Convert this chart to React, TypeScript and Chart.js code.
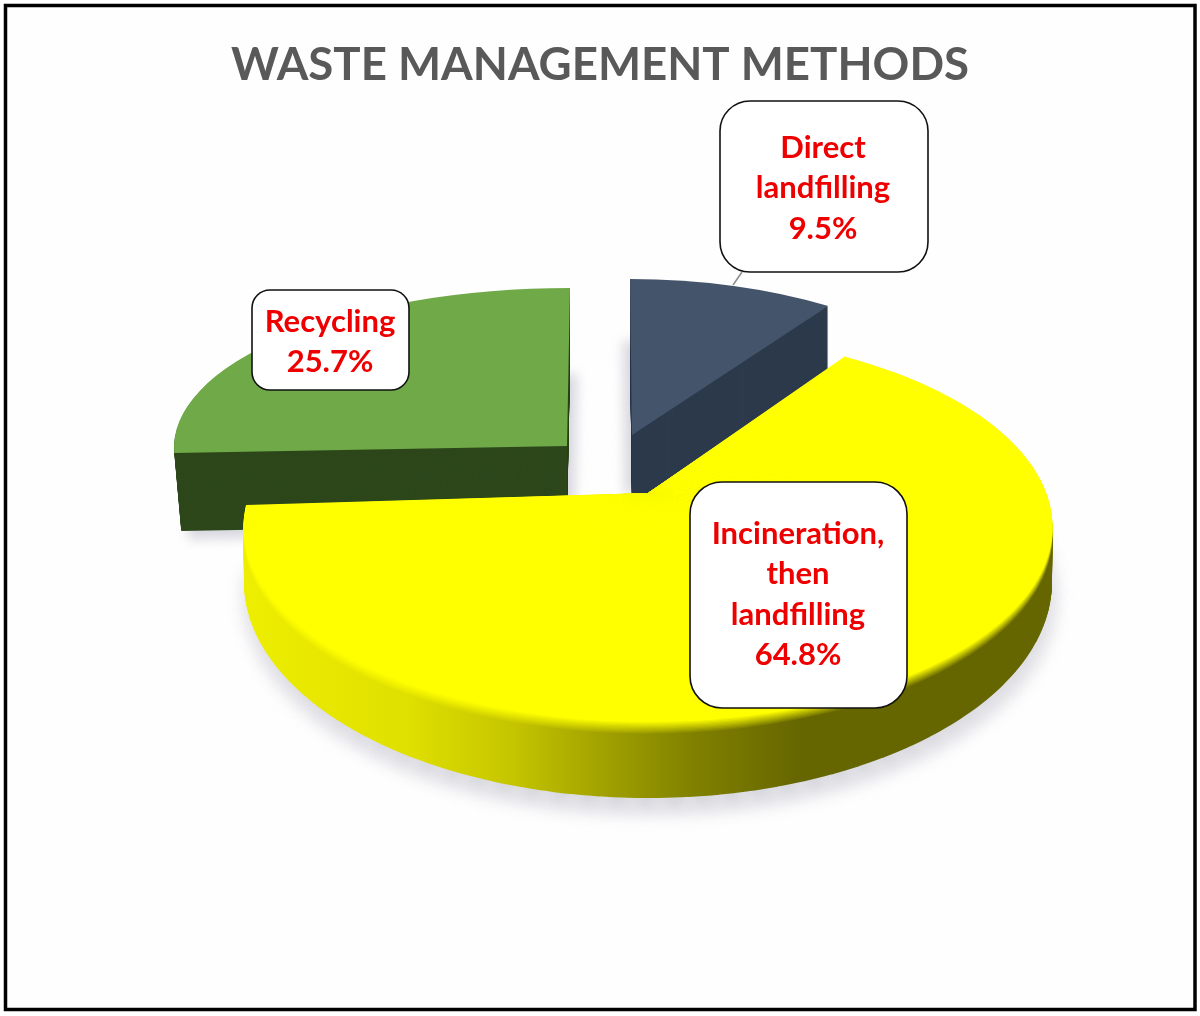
import React, { useEffect, useRef } from "react";
import { Chart, registerables } from "chart.js";

Chart.register(...registerables);

const TITLE = "WASTE MANAGEMENT METHODS";
const categories = ["Direct landfilling", "Incineration, then landfilling", "Recycling"];
const values = [9.5, 64.8, 25.7];
const labelLines = [["Direct", "landfilling"], ["Incineration,", "then", "landfilling"], ["Recycling"]];
const topColors = ["#44546a", "#ffff00", "#6fa948"];
const sideColors = ["#2c3a4c", "#ffff00", "#2d471b"];

type M = { A: number; B: number; C: number; D: number };
type Part = { from: number; to: number; top: M; bot: M };
type Slice = { cx: number; cy: number; depth: number; steps: number; parts: Part[] };
type Rim = { cx: number; cy: number; rx: number; ry: number };

// The big slice is seen in perspective: its hub is not the centre of the rim ellipses.
const HUB = { x: 648, y: 493 };
const RIM_TOP: Rim = { cx: 648, cy: 527, rx: 404.5, ry: 195 };
const RIM_BOTTOM: Rim = { cx: 648, cy: 582, rx: 404, ry: 216 };

function perspectiveParts(startDeg: number, endDeg: number): Part[] {
  const rad = Math.PI / 180;
  const psiOf = (t: number) => 29.1 + ((t - 34.2) * (276.5 - 29.1)) / (267.5 - 34.2);
  const pt = (r: Rim, t: number) => {
    const psi = psiOf(t) * rad;
    return [r.cx + r.rx * Math.sin(psi) - HUB.x, r.cy - r.ry * Math.cos(psi) - HUB.y];
  };
  const solve = (r: Rim, t0: number, t1: number): M => {
    const s0 = Math.sin(t0 * rad), k0 = Math.cos(t0 * rad), s1 = Math.sin(t1 * rad), k1 = Math.cos(t1 * rad);
    const det = -s0 * k1 + s1 * k0;
    const [x0, y0] = pt(r, t0);
    const [x1, y1] = pt(r, t1);
    return {
      A: (-x0 * k1 + x1 * k0) / det,
      C: (s0 * x1 - s1 * x0) / det,
      B: (-y0 * k1 + y1 * k0) / det,
      D: (s0 * y1 - s1 * y0) / det,
    };
  };
  const out: Part[] = [];
  const n = 58;
  for (let i = 0; i < n; i++) {
    const a = startDeg + ((endDeg - startDeg) * i) / n;
    const b = startDeg + ((endDeg - startDeg) * (i + 1)) / n;
    out.push({ from: a, to: b + 0.15, top: solve(RIM_TOP, a, b), bot: solve(RIM_BOTTOM, a, b) });
  }
  return out.reverse();
}

const slicesGeom: Slice[] = [
  {
    cx: 632, cy: 435, depth: 70, steps: 70,
    parts: [{ from: 0, to: 360, top: { A: 352, B: 0, C: 2, D: 156 }, bot: { A: 352, B: 0, C: 2, D: 156 } }],
  },
  { cx: HUB.x, cy: HUB.y, depth: 0, steps: 60, parts: perspectiveParts(34.2, 267.5) },
  {
    cx: 567, cy: 446, depth: 78, steps: 78,
    parts: [{ from: 0, to: 360, top: { A: 393, B: 0, C: -3, D: 158 }, bot: { A: 386, B: 0, C: -3, D: 158 } }],
  },
];
const boxes = [
  { x: 720, y: 101, w: 208, h: 171, r: 30, tx: 823, ty: 148 },
  { x: 690, y: 482, w: 217, h: 226, r: 32, tx: 798, ty: 534 },
  { x: 252, y: 290, w: 157, h: 100, r: 18, tx: 330, ty: 322 },
];
const LINE = 40.4;
const SIDE_STOPS: [number, number][] = [
  [0, 238], [0.2, 224], [0.33, 198], [0.45, 160], [0.56, 128], [0.69, 102], [1, 102],
];

const lerp = (a: number, b: number, t: number) => a + (b - a) * t;

function drawSlice(
  ctx: CanvasRenderingContext2D,
  arc: any,
  s: Slice,
  fill: any,
  t: number,
  shift = { x: 0, y: 0 },
) {
  const R = arc.outerRadius;
  const deg = Math.PI / 180;
  for (const p of s.parts) {
    const start = Math.max(arc.startAngle, p.from * deg - Math.PI / 2);
    const end = Math.min(arc.endAngle, p.to * deg - Math.PI / 2);
    if (end <= start) continue;
    const A = lerp(p.top.A, p.bot.A, t);
    const C = lerp(p.top.C, p.bot.C, t);
    const view = Object.create(arc);
    view.startAngle = start;
    view.endAngle = end;
    view.circumference = end - start;
    view.options = {
      backgroundColor: typeof fill === "function" ? fill(arc, s, A, C) : fill,
      borderColor: "transparent", borderWidth: 0, borderAlign: "center",
      offset: 0, spacing: 0, circular: true, borderRadius: 0, borderJoinStyle: "round", selfJoin: false,
    };
    ctx.save();
    ctx.translate(s.cx + shift.x, s.cy + s.depth * t + shift.y);
    ctx.transform(A / R, lerp(p.top.B, p.bot.B, t) / R, C / R, lerp(p.top.D, p.bot.D, t) / R, 0, 0);
    ctx.translate(-arc.x, -arc.y);
    arc.draw.call(view, ctx);
    ctx.restore();
  }
}

function yellowSide(ctx: CanvasRenderingContext2D, mix: number) {
  return (arc: any, s: Slice, A: number, C: number) => {
    const R = arc.outerRadius;
    const X0 = 243, X1 = 1050;
    const x0 = arc.x + ((X0 - s.cx) * R) / A;
    const lambda = ((X1 - X0) * R) / (A * A + C * C);
    const g = ctx.createLinearGradient(x0, arc.y, x0 + lambda * A, arc.y + lambda * C);
    for (const [at, v] of SIDE_STOPS) {
      const c = Math.round(v + (255 - v) * mix);
      g.addColorStop(at, `rgb(${c},${c},0)`);
    }
    return g;
  };
}

const frame = {
  id: "frame",
  beforeDraw(chart: any) {
    const { ctx, width, height } = chart;
    ctx.save();
    ctx.fillStyle = "#ffffff";
    ctx.fillRect(0, 0, width, height);
    ctx.fillStyle = "#fefefe";
    ctx.fillRect(6, 6, 1188, 1003);
    ctx.strokeStyle = "#000000";
    ctx.lineWidth = 3.5;
    ctx.strokeRect(5.5, 5.5, 1189.5, 1004);
    ctx.restore();
  },
};

const pie3d = {
  id: "pie3d",
  beforeDatasetsDraw(chart: any) {
    const ctx: CanvasRenderingContext2D = chart.ctx;
    const arcs = chart.getDatasetMeta(0).data;

    ctx.save();
    ctx.filter = "blur(6px)";
    drawSlice(ctx, arcs[2], slicesGeom[2], "#d6d6de", 1, { x: 7, y: 8 });
    drawSlice(ctx, arcs[0], slicesGeom[0], "#d6d6de", 1, { x: -7, y: -8 });
    ctx.filter = "blur(9px)";
    drawSlice(ctx, arcs[1], slicesGeom[1], "#d2d2da", 1, { x: 2, y: 14 });
    ctx.restore();

    for (const i of [2, 0, 1]) {
      const s = slicesGeom[i];
      for (let k = s.steps; k >= 1; k--) {
        const side = i === 1 ? yellowSide(ctx, Math.max(0, 1 - k / 10)) : sideColors[i];
        drawSlice(ctx, arcs[i], s, side, k / s.steps);
      }
      drawSlice(ctx, arcs[i], s, topColors[i], 0);
    }
    return false;
  },
};

const callouts = {
  id: "callouts",
  afterDraw(chart: any) {
    const ctx: CanvasRenderingContext2D = chart.ctx;
    ctx.save();
    ctx.strokeStyle = "#8a8a8a";
    ctx.lineWidth = 1.5;
    ctx.beginPath();
    ctx.moveTo(742, 272);
    ctx.lineTo(733, 285);
    ctx.stroke();
    values.forEach((v, i) => {
      const b = boxes[i];
      ctx.beginPath();
      ctx.roundRect(b.x, b.y, b.w, b.h, b.r);
      ctx.fillStyle = "#ffffff";
      ctx.fill();
      ctx.strokeStyle = "#111111";
      ctx.lineWidth = 1.6;
      ctx.stroke();
      ctx.fillStyle = "#ee0000";
      ctx.font = "bold 31px Lato";
      ctx.textAlign = "center";
      ctx.textBaseline = "middle";
      [...labelLines[i], `${v}%`].forEach((t, k) => ctx.fillText(t, b.tx, b.ty + k * LINE));
    });
    ctx.restore();
  },
};

export default function App() {
  const ref = useRef<HTMLCanvasElement | null>(null);
  useEffect(() => {
    document.body.style.margin = "0";
    const chart = new Chart(ref.current as HTMLCanvasElement, {
      type: "pie",
      data: {
        labels: categories,
        datasets: [{ data: values, backgroundColor: topColors, borderWidth: 0 }],
      },
      options: {
        responsive: false,
        animation: false,
        devicePixelRatio: 1,
        layout: { padding: { top: 38 } },
        plugins: {
          legend: { display: false },
          tooltip: { enabled: false },
          title: {
            display: true,
            text: TITLE,
            color: "#595959",
            font: { family: "Lato", size: 45.6, weight: "bold" },
            padding: { top: 0, bottom: 10 },
          },
        },
      } as any,
      plugins: [frame, pie3d, callouts] as any,
    });
    return () => chart.destroy();
  }, []);
  return <canvas ref={ref} width={1200} height={1016} style={{ display: "block", width: 1200, height: 1016 }} />;
}
